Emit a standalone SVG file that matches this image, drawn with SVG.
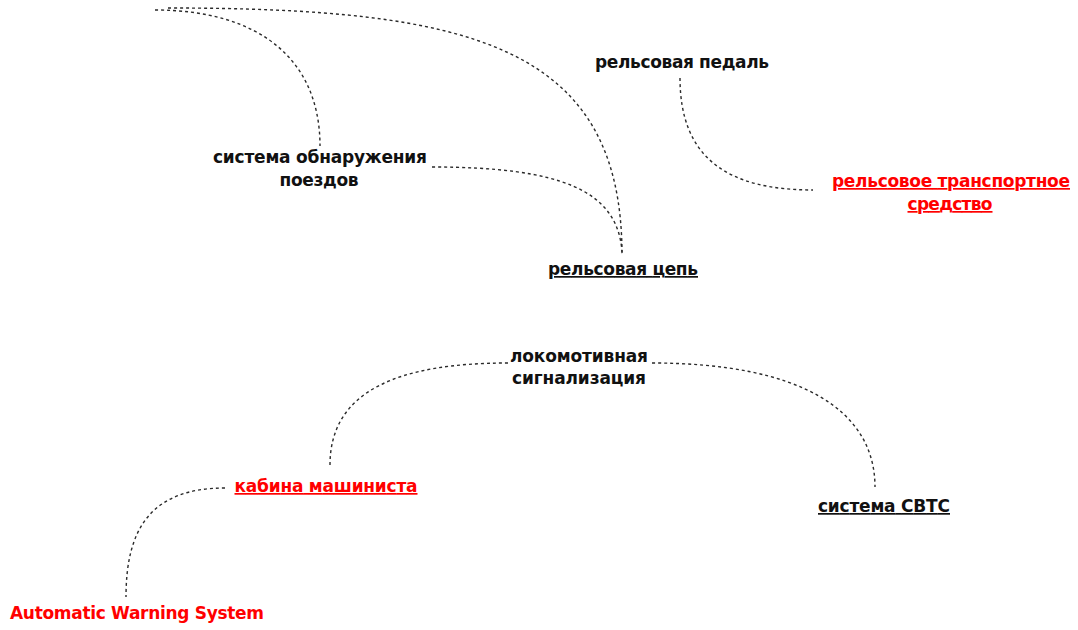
<svg xmlns="http://www.w3.org/2000/svg" width="1078" height="630" viewBox="0 0 1078 630">
<style>
.lbl{font-family:"DejaVu Sans","Noto Sans",sans-serif;font-weight:bold;font-size:17px;text-anchor:middle;fill:#111}
.red{fill:#ff0000}
.u{text-decoration:underline}
.c{fill:none;stroke:#2a2a2a;stroke-width:1.4;stroke-dasharray:3 3}
</style>
<rect width="1078" height="630" fill="#fff"/>
<g id="connectors">
<path class="c" d="M168,8 C470,8 622,45 622,255"/>
<path class="c" d="M155,10 C260,10 320,60 320,146"/>
<path class="c" d="M432,167 C560,167 618,190 622,252"/>
<path class="c" d="M680,78 C680,160 730,190 813,190"/>
<path class="c" d="M508,363 C400,363 330,390 330,465"/>
<path class="c" d="M652,363 C800,363 875,410 875,487"/>
<path class="c" d="M225,488 C150,488 126,530 126,597"/>
</g>
<g id="n_sys">
<text class="lbl" x="320" y="163" textLength="214">система обнаружения</text>
<text class="lbl" x="319" y="186" textLength="79">поездов</text>
</g>
<g id="n_pedal">
<text class="lbl" x="682" y="68" textLength="174">рельсовая педаль</text>
</g>
<g id="n_vehicle">
<text class="lbl red u" x="951" y="187" textLength="238">рельсовое транспортное</text>
<text class="lbl red u" x="950" y="210" textLength="85">средство</text>
</g>
<g id="n_circuit">
<text class="lbl u" x="623" y="275" textLength="150">рельсовая цепь</text>
</g>
<g id="n_loco">
<text class="lbl" x="579" y="362" textLength="138">локомотивная</text>
<text class="lbl" x="579" y="384" textLength="134">сигнализация</text>
</g>
<g id="n_cab">
<text class="lbl red u" x="326" y="492" textLength="183">кабина машиниста</text>
</g>
<g id="n_cbtc">
<text class="lbl u" x="884" y="512" textLength="132">система CBTC</text>
</g>
<g id="n_aws">
<text class="lbl red" x="137" y="619" textLength="254">Automatic Warning System</text>
</g>
</svg>
